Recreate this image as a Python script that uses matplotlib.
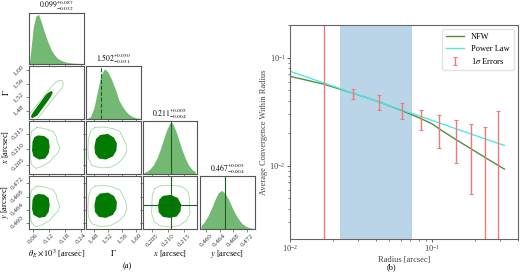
import matplotlib.pyplot as plt

plt.rcParams['font.family'] = ['Liberation Serif', 'DejaVu Serif']
plt.rcParams['mathtext.fontset'] = 'stix'

# ---------- (a) corner plot data ----------
param_labels = [r'$\theta_E \times 10^3$ [arcsec]', r'$\Gamma$', r'$x$ [arcsec]', r'$y$ [arcsec]']
param_titles = [r'$0.099^{+0.087}_{-0.032}$', r'$1.502^{+0.050}_{-0.031}$',
                r'$0.211^{+0.005}_{-0.004}$', r'$0.467^{+0.005}_{-0.004}$']
param_lims = [(0.0446, 0.2523), (1.4575, 1.6116), (0.2021, 0.2191), (0.4582, 0.4742)]
param_ticks = [[0.06, 0.12, 0.18, 0.24], [1.48, 1.52, 1.56, 1.60],
               [0.205, 0.210, 0.215], [0.460, 0.464, 0.468, 0.472]]
param_ticklabels = [['0.06', '0.12', '0.18', '0.24'], ['1.48', '1.52', '1.56', '1.60'],
                    ['0.205', '0.210', '0.215'], ['0.460', '0.464', '0.468', '0.472']]

# marginal histograms (relative heights)
theta_grid = [0.045, 0.05, 0.06, 0.07, 0.08, 0.09, 0.10, 0.11, 0.12, 0.13, 0.14, 0.15,
              0.16, 0.17, 0.18, 0.19, 0.20, 0.21, 0.22, 0.23, 0.24]
theta_counts = [0.02, 0.25, 0.75, 0.97, 1.0, 0.85, 0.68, 0.52, 0.38, 0.26, 0.18, 0.12,
                0.08, 0.055, 0.035, 0.025, 0.015, 0.01, 0.006, 0.004, 0.002]
gamma_grid = [1.46, 1.47, 1.48, 1.49, 1.50, 1.51, 1.52, 1.53, 1.54, 1.55, 1.56, 1.57,
              1.58, 1.59, 1.60, 1.61]
gamma_counts = [0.0, 0.04, 0.22, 0.55, 0.88, 1.0, 0.93, 0.78, 0.6, 0.38, 0.25, 0.15,
                0.08, 0.04, 0.015, 0.005]
xpos_grid = [0.2025, 0.2035, 0.2045, 0.2055, 0.2065, 0.2075, 0.2085, 0.2095, 0.2105,
             0.2110, 0.2115, 0.2125, 0.2135, 0.2145, 0.2155, 0.2165, 0.2175, 0.2185]
xpos_counts = [0.02, 0.05, 0.1, 0.18, 0.3, 0.46, 0.65, 0.84, 0.98,
               1.0, 0.97, 0.82, 0.63, 0.44, 0.28, 0.16, 0.08, 0.04]
ypos_grid = [0.4585, 0.4595, 0.4605, 0.4615, 0.4625, 0.4635, 0.4645, 0.4655, 0.4665,
             0.4675, 0.4685, 0.4695, 0.4705, 0.4715, 0.4725, 0.4735]
ypos_counts = [0.08, 0.18, 0.33, 0.52, 0.74, 0.93, 1.0, 0.93, 0.78,
               0.58, 0.4, 0.25, 0.14, 0.07, 0.03, 0.01]
hist_tops = [1.03, 1.05, 1.02, 1.37]
truth_vals = [None, 1.50, 0.211, 0.4655]

# 2D credible contours (inner filled, outer line)
tg_inner_t = [0.0542, 0.0750, 0.0996, 0.1242, 0.1338, 0.1304, 0.1204, 0.1073, 0.0827, 0.0581, 0.0511]
tg_inner_g = [1.4583, 1.4668, 1.4927, 1.5189, 1.5330, 1.5389, 1.5358, 1.5274, 1.5012, 1.4752, 1.4654]
tg_outer_t = [0.0473, 0.0700, 0.0869, 0.1213, 0.1558, 0.1723, 0.1742, 0.1684, 0.1569, 0.1450,
              0.1281, 0.0936, 0.0592, 0.0423]
tg_outer_g = [1.4499, 1.4521, 1.4688, 1.5022, 1.5355, 1.5513, 1.5626, 1.5696, 1.5696, 1.5640,
              1.5507, 1.5174, 1.4840, 1.4674]

tx_inner_t = [0.0781, 0.1011, 0.1184, 0.1223, 0.1184, 0.1050, 0.0819, 0.0608, 0.0550, 0.0569, 0.0646]
tx_inner_x = [0.2145, 0.2143, 0.2132, 0.2109, 0.2087, 0.2070, 0.2067, 0.2077, 0.2096, 0.2125, 0.2140]
tx_outer_t = [0.0742, 0.1050, 0.1358, 0.1473, 0.1511, 0.1608, 0.1550, 0.1396, 0.1204, 0.0934,
              0.0704, 0.0531, 0.0473, 0.0473, 0.0531]
tx_outer_x = [0.2171, 0.2167, 0.2157, 0.2141, 0.2125, 0.2106, 0.2090, 0.2077, 0.2058, 0.2045,
              0.2038, 0.2051, 0.2080, 0.2129, 0.2158]

gx_inner_g = [1.4969, 1.5195, 1.5364, 1.5448, 1.5434, 1.5336, 1.5138, 1.4941, 1.4829, 1.4814, 1.4857]
gx_inner_x = [0.2146, 0.2150, 0.2138, 0.2119, 0.2096, 0.2077, 0.2067, 0.2070, 0.2087, 0.2109, 0.2133]
gx_outer_g = [1.4829, 1.5082, 1.5336, 1.5533, 1.5617, 1.5702, 1.5730, 1.5645, 1.5476, 1.5251,
              1.4969, 1.4744, 1.4645, 1.4631, 1.4645, 1.4716]
gx_outer_x = [0.2171, 0.2172, 0.2167, 0.2158, 0.2138, 0.2119, 0.2096, 0.2074, 0.2054, 0.2041,
              0.2040, 0.2048, 0.2070, 0.2103, 0.2135, 0.2161]

ty_inner_t = tx_inner_t
ty_inner_y = [0.4688, 0.4686, 0.4676, 0.4654, 0.4633, 0.4618, 0.4615, 0.4624, 0.4642, 0.4670, 0.4683]
ty_outer_t = tx_outer_t
ty_outer_y = [0.4712, 0.4709, 0.4700, 0.4685, 0.4670, 0.4651, 0.4636, 0.4624, 0.4606, 0.4594,
              0.4588, 0.4600, 0.4627, 0.4673, 0.4700]

gy_inner_g = gx_inner_g
gy_inner_y = [0.4689, 0.4692, 0.4682, 0.4664, 0.4642, 0.4624, 0.4615, 0.4618, 0.4633, 0.4654, 0.4677]
gy_outer_g = gx_outer_g
gy_outer_y = [0.4712, 0.4714, 0.4709, 0.4700, 0.4682, 0.4664, 0.4642, 0.4621, 0.4603, 0.4591,
              0.4589, 0.4597, 0.4618, 0.4648, 0.4679, 0.4703]

xy_inner_x = [0.2084, 0.2108, 0.2130, 0.2141, 0.2139, 0.2127, 0.2105, 0.2084, 0.2071, 0.2069, 0.2073]
xy_inner_y = [0.4682, 0.4685, 0.4676, 0.4656, 0.4635, 0.4619, 0.4615, 0.4618, 0.4632, 0.4653, 0.4671]
xy_outer_x = [0.2059, 0.2081, 0.2112, 0.2142, 0.2161, 0.2167, 0.2166, 0.2169, 0.2158, 0.2136,
              0.2105, 0.2074, 0.2056, 0.2049, 0.2050, 0.2051]
xy_outer_y = [0.4705, 0.4714, 0.4714, 0.4711, 0.4698, 0.4677, 0.4653, 0.4629, 0.4607, 0.4592,
              0.4587, 0.4591, 0.4604, 0.4629, 0.4659, 0.4686]

# ---------- (b) convergence profile data ----------
model_r = [0.01, 0.0173, 0.028, 0.042, 0.061, 0.084, 0.1, 0.115, 0.147, 0.1875, 0.235, 0.321]
nfw_kappa = [0.0671, 0.0567, 0.0467, 0.0390, 0.0324, 0.0271, 0.0243, 0.0214, 0.0174, 0.0143, 0.0119, 0.0093]
pl_kappa = [0.0747, 0.0582, 0.0468, 0.0389, 0.0328, 0.0284, 0.0262, 0.0246, 0.0219, 0.0196, 0.0177, 0.0154]
err_r = [0.0173, 0.0279, 0.0419, 0.0608, 0.0838, 0.112, 0.147, 0.1875, 0.235, 0.29]
err_kappa = [0.0567, 0.0467, 0.0392, 0.0326, 0.0271, 0.0222, 0.0184, 0.0150, 0.0118, 0.0097]
err_sigma = [0.2, 0.0050, 0.0062, 0.0054, 0.0059, 0.0075, 0.0079, 0.0095, 0.0109, 0.0221]
fit_region = (0.0225, 0.072)

W, H = 520, 273
fig = plt.figure(figsize=(5.2, 2.73), dpi=100)

col_left = [29.3, 86.0, 142.7, 200.0]
row_top = [13.0, 66.2, 121.2, 176.2]
row_h = [50.5, 52.5, 52.5, 52.5]
pw = 54.5

hists = [(theta_grid, theta_counts), (gamma_grid, gamma_counts),
         (xpos_grid, xpos_counts), (ypos_grid, ypos_counts)]
pairs = {
    (1, 0): (tg_inner_t, tg_inner_g, tg_outer_t, tg_outer_g),
    (2, 0): (tx_inner_t, tx_inner_x, tx_outer_t, tx_outer_x),
    (2, 1): (gx_inner_g, gx_inner_x, gx_outer_g, gx_outer_x),
    (3, 0): (ty_inner_t, ty_inner_y, ty_outer_t, ty_outer_y),
    (3, 1): (gy_inner_g, gy_inner_y, gy_outer_g, gy_outer_y),
    (3, 2): (xy_inner_x, xy_inner_y, xy_outer_x, xy_outer_y),
}

spine_col = '#555555'
for i in range(4):
    for j in range(i + 1):
        ph = row_h[i]
        ax = fig.add_axes([col_left[j] / W, 1 - (row_top[i] + ph) / H, pw / W, ph / H])
        for s in ax.spines.values():
            s.set_color(spine_col)
            s.set_linewidth(0.8)
        ax.tick_params(labelsize=5, length=2, width=0.5, pad=1, colors=spine_col, labelcolor='#333333')
        ax.set_xlim(param_lims[j])
        ax.set_xticks(param_ticks[j])
        if i == j:
            gx, gy = hists[i]
            ax.fill_between(gx, gy, color='green', alpha=0.55, lw=0)
            ax.set_ylim(0, hist_tops[i])
            ax.set_yticks([])
            if truth_vals[i] is not None:
                ls = '--' if i == 1 else '-'
                ax.axvline(truth_vals[i], color='#1e5e1e', lw=0.8, ls=ls)
            ax.set_title(param_titles[i], fontsize=5.5, pad=0)
        else:
            inx, iny, outx, outy = pairs[(i, j)]
            ax.fill(inx, iny, color='#007a00', lw=0)
            ax.plot(outx + outx[:1], outy + outy[:1], color='#a6d8a6', lw=0.6)
            ax.set_ylim(param_lims[i])
            ax.set_yticks(param_ticks[i])
            if (i, j) == (3, 2):
                ax.axvline(truth_vals[2], color='#1e5e1e', lw=0.8)
                ax.axhline(truth_vals[3], color='#1e5e1e', lw=0.8)
            if j == 0:
                ax.set_yticklabels(param_ticklabels[i], rotation=45, va='center')
                ax.set_ylabel(param_labels[i], fontsize=6)
                ax.yaxis.set_label_coords(-0.33, 0.5)
            else:
                ax.set_yticklabels([])
        if i == 3:
            ax.set_xticklabels(param_ticklabels[j], rotation=45, ha='center')
            ax.set_xlabel(param_labels[j], fontsize=6)
            ax.xaxis.set_label_coords(0.5, -0.36)
        else:
            ax.set_xticklabels([])

fig.text(127 / W, 1 - 266 / H, '(a)', fontsize=6, ha='center', va='center')

# ---------- (b) ----------
ax2 = fig.add_axes([290 / W, 1 - 239 / H, 228 / W, 214 / H])
ax2.axvspan(fit_region[0], fit_region[1], color='#1f77b4', alpha=0.3, lw=0)
ax2.plot(model_r, nfw_kappa, color='#4f8f3f', lw=1.0, label='NFW')
ax2.plot(model_r, pl_kappa, color='#55e6e6', lw=1.0, label='Power Law')
ax2.errorbar(err_r, err_kappa, yerr=err_sigma, fmt='none', ecolor='#f07878',
             elinewidth=1.0, capsize=1.5, capthick=0.8, label=r'1$\sigma$ Errors')
ax2.set_xscale('log')
ax2.set_yscale('log')
ax2.set_xlim(0.01, 0.4)
ax2.set_ylim(0.0021, 0.2)
for s in ax2.spines.values():
    s.set_color('#666666')
    s.set_linewidth(0.8)
ax2.tick_params(labelsize=6, width=0.6, length=2, pad=1, colors='#444444', labelcolor='#444444')
ax2.tick_params(which='minor', width=0.5, length=1.5, colors='#444444')
ax2.set_xlabel('Radius [arcsec]', fontsize=6, color='#444444', labelpad=1)
ax2.set_ylabel('Average Convergence Within Radius', fontsize=6, color='#444444', labelpad=1)
ax2.legend(loc='upper right', fontsize=6, frameon=True, framealpha=0.8, edgecolor='#dddddd',
           handlelength=2.2, borderpad=0.5, labelspacing=0.4)

fig.text(391 / W, 1 - 266.7 / H, '(b)', fontsize=6, ha='center', va='center')

fig.savefig('out.png', dpi=100)
